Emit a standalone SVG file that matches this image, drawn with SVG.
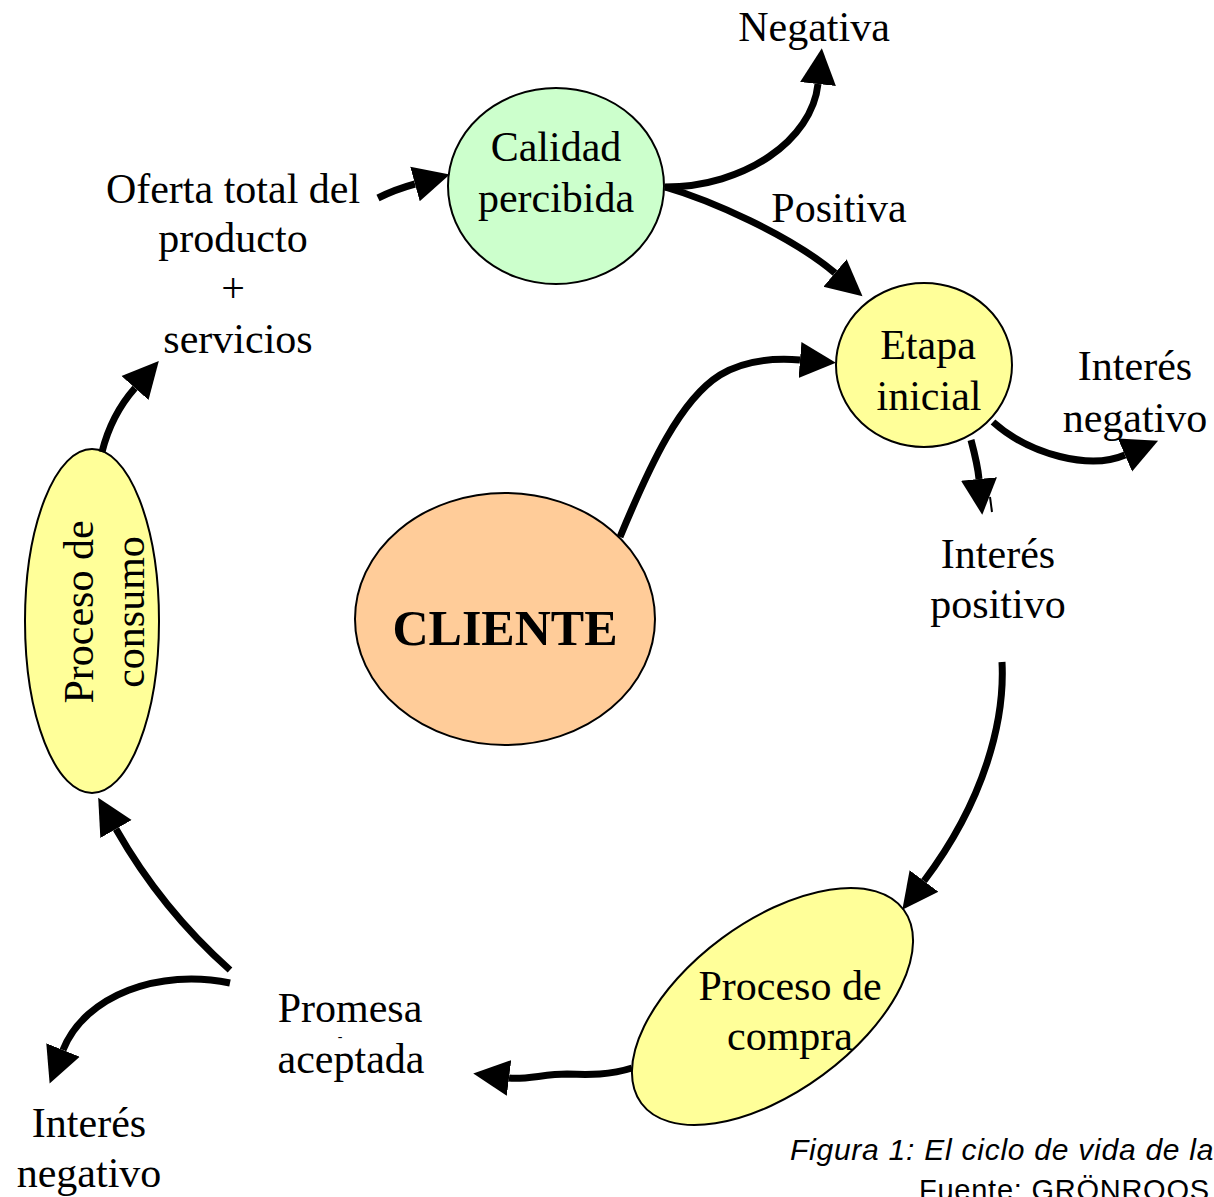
<svg xmlns="http://www.w3.org/2000/svg" width="1214" height="1197" viewBox="0 0 1214 1197">
<style>
.t{font-family:"Liberation Serif","Times New Roman",serif;font-size:42px;fill:#000;text-anchor:middle}
.node{stroke:#000;stroke-width:2}
.c{fill:none;stroke:#000;stroke-width:7;marker-end:url(#ah)}
.cap{font-family:"Liberation Sans",Arial,sans-serif;fill:#000;letter-spacing:0.75px}
</style>
<defs>
<marker id="ah" markerUnits="userSpaceOnUse" markerWidth="40" markerHeight="40" viewBox="0 -20 40 40" refX="0" refY="0" orient="auto">
<path d="M0,-18 L36,0 L0,18 z" fill="#000"/>
</marker>
</defs>
<rect width="1214" height="1197" fill="#fff"/>

<g id="calidad">
<ellipse class="node" cx="556" cy="186" rx="108" ry="98" fill="#CCFFCC"/>
<text class="t" x="556" y="161">Calidad</text>
<text class="t" x="556" y="212">percibida</text>
</g>

<g id="etapa">
<ellipse class="node" cx="924" cy="365" rx="88" ry="82" fill="#FFFF99"/>
<text class="t" x="928" y="359">Etapa</text>
<text class="t" x="929" y="410">inicial</text>
</g>

<g id="cliente">
<ellipse class="node" cx="505" cy="619" rx="150" ry="126" fill="#FFCC99"/>
<text class="t" x="505" y="645" style="font-weight:bold;font-size:50px">CLIENTE</text>
</g>

<g id="consumo">
<ellipse class="node" cx="92" cy="621" rx="67" ry="172" fill="#FFFF99"/>
<text class="t" x="93" y="612" transform="rotate(-90 93 612)">Proceso de</text>
<text class="t" x="144" y="612" transform="rotate(-90 144 612)">consumo</text>
</g>

<g id="compra">
<ellipse class="node" cx="772.5" cy="1006.5" rx="163" ry="85" fill="#FFFF99" transform="rotate(-36.4 772.5 1006.5)"/>
<text class="t" x="790" y="1000">Proceso de</text>
<text class="t" x="790" y="1050">compra</text>
</g>

<g id="oferta">
<text class="t" x="233" y="203">Oferta total del</text>
<text class="t" x="233" y="252">producto</text>
<text class="t" x="233" y="302">+</text>
<text class="t" x="238" y="353">servicios</text>
</g>

<g id="negativa"><text class="t" x="814" y="41">Negativa</text></g>
<g id="positiva"><text class="t" x="839" y="222">Positiva</text></g>
<g id="interes-neg-1">
<text class="t" x="1135" y="380">Interés</text>
<text class="t" x="1135" y="432">negativo</text>
</g>
<g id="interes-pos">
<text class="t" x="998" y="568">Interés</text>
<text class="t" x="998" y="618">positivo</text>
</g>
<g id="promesa">
<text class="t" x="350" y="1022">Promesa</text>
<text class="t" x="340" y="1041" style="font-size:14px">-</text>
<text class="t" x="351" y="1073">aceptada</text>
</g>
<g id="interes-neg-2">
<text class="t" x="89" y="1137">Interés</text>
<text class="t" x="89" y="1187">negativo</text>
</g>

<g id="connectors">
<path class="c" d="M378,198 C390,192 404,187 415,184"/>
<path class="c" d="M665,187 C745,187 812,140 818,84"/>
<path class="c" d="M665,187 C710,200 790,235 835,273"/>
<path class="c" d="M620,537 C650,465 680,400 720,375 C745,360 775,358 800,360"/>
<path class="c" d="M993,422 C1030,455 1090,470 1125,455"/>
<path class="c" d="M971,440 C975,455 978,468 979,479"/>
<line x1="990" y1="497" x2="992" y2="512" stroke="#000" stroke-width="2"/>
<path class="c" d="M1002,662 C1005,720 985,800 924,881"/>
<path class="c" d="M632,1068 C610,1075 590,1075 567,1074 C545,1074 525,1080 509,1078"/>
<path class="c" d="M230,970 C185,930 145,880 116,829"/>
<path class="c" d="M230,983 C160,968 85,995 63,1050"/>
<path class="c" d="M102,452 C108,428 120,405 135,388"/>
</g>

<g id="caption">
<text class="cap" x="790" y="1160" style="font-size:30px;font-style:italic">Figura 1: El ciclo de vida de la</text>
<text class="cap" x="919" y="1200" style="font-size:29px">Fuente: GRÖNROOS</text>
</g>
</svg>
